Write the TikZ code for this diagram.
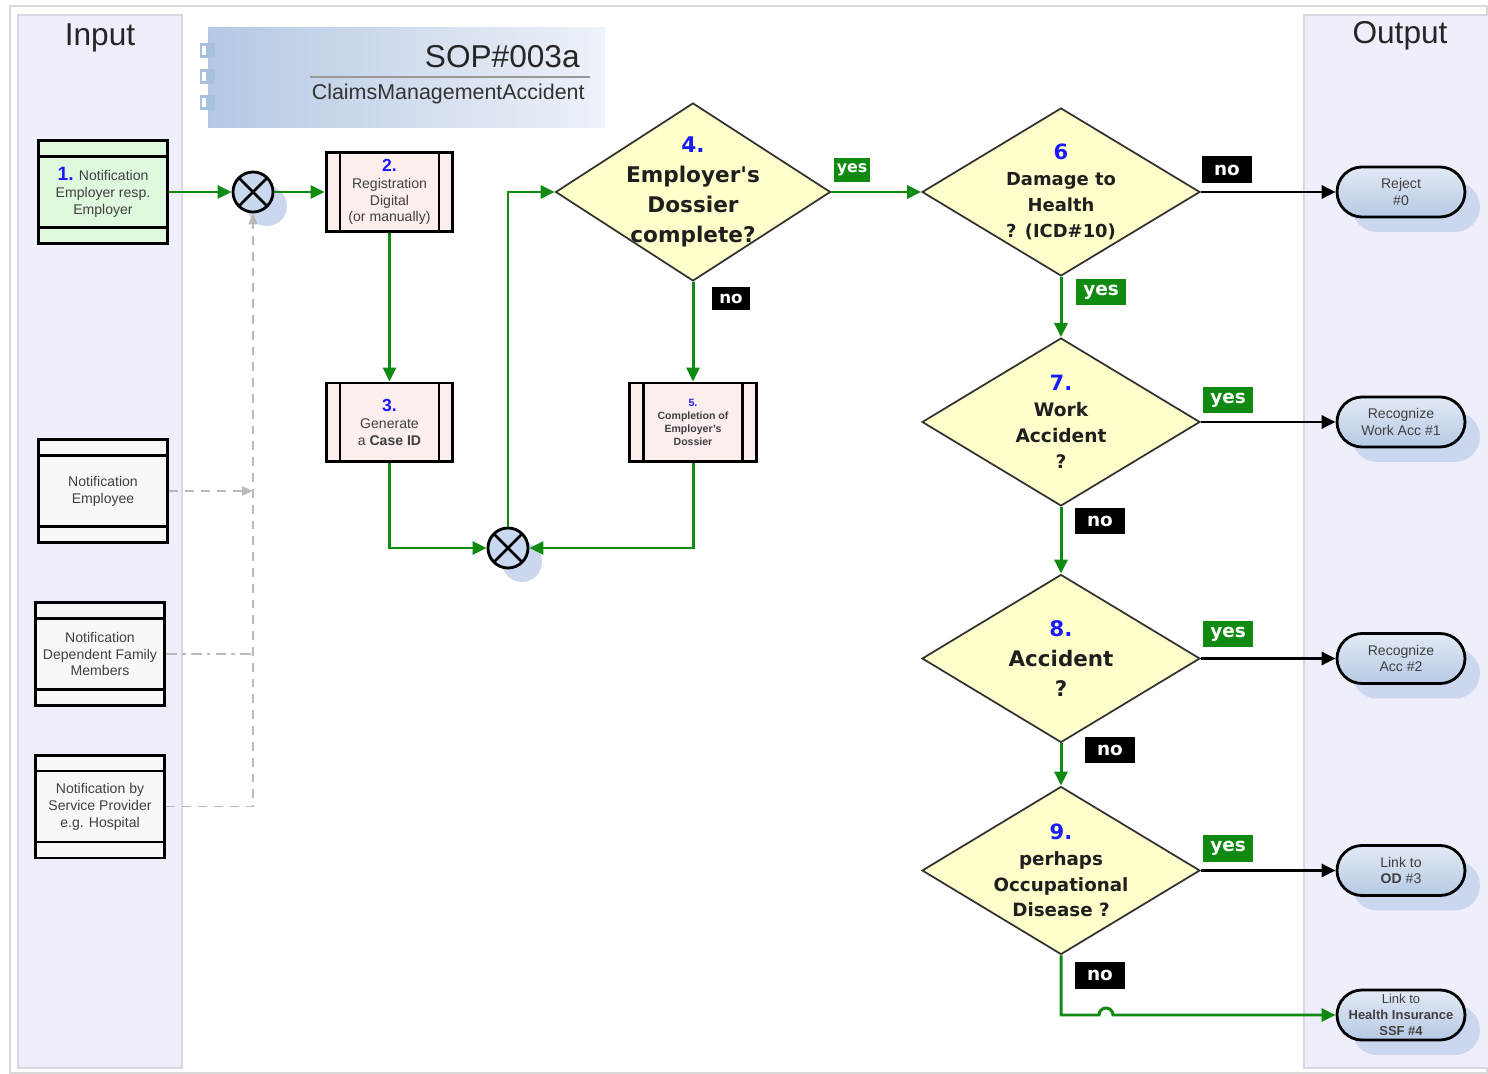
\documentclass[tikz,border=0pt]{standalone}
\usepackage{fontspec}
\setmainfont{Liberation Sans}
\newfontfamily\djv{DejaVu Sans}
\usetikzlibrary{shapes.geometric,shapes.misc,arrows.meta,shadows}
\definecolor{lanefill}{HTML}{EFEFFB}
\definecolor{laneline}{HTML}{D8D8E4}
\definecolor{greenbox}{HTML}{DFF9DF}
\definecolor{pinkbox}{HTML}{FDEEEE}
\definecolor{greybox}{HTML}{F8F8F8}
\definecolor{dyellow}{HTML}{FFFFCC}
\definecolor{lgreen}{HTML}{118A11}
\definecolor{numblue}{HTML}{1A1AFF}
\definecolor{txtgray}{HTML}{404040}
\definecolor{shblue}{HTML}{CBD7EE}
\definecolor{gwblue}{HTML}{C8D8EE}
\definecolor{termtop}{HTML}{E2EAF5}
\definecolor{termbot}{HTML}{B6C9E4}
\definecolor{bannerL}{HTML}{B5C8E3}
\definecolor{bannerR}{HTML}{EEF2F9}
\definecolor{sqblue}{HTML}{A9C0E0}
\newcommand{\numf}{\color{numblue}\bfseries}
\begin{document}
\begin{tikzpicture}[x=0.02cm,y=-0.02cm,
  lanebox/.style={draw=laneline,fill=lanefill,line width=0.8pt},
  inbox/.style={rectangle,draw=black,line width=1.7pt,fill=greybox,
    minimum width=2.6cm,minimum height=2.06cm,inner sep=1pt,align=center,
    text=txtgray,font=\fontsize{8}{9.6}\selectfont,
    path picture={\draw[line width=1.6pt]
      ([yshift=-0.32cm]path picture bounding box.north west) -- ([yshift=-0.32cm]path picture bounding box.north east)
      ([yshift=0.32cm]path picture bounding box.south west) -- ([yshift=0.32cm]path picture bounding box.south east);}},
  procbox/.style={rectangle,draw=black,line width=1.7pt,fill=pinkbox,
    minimum width=2.54cm,minimum height=1.58cm,inner sep=1pt,align=center,
    text=txtgray,font=\fontsize{8}{9.6}\selectfont,
    path picture={\draw[line width=1.6pt]
      ([xshift=0.28cm]path picture bounding box.north west) -- ([xshift=0.28cm]path picture bounding box.south west)
      ([xshift=-0.28cm]path picture bounding box.north east) -- ([xshift=-0.28cm]path picture bounding box.south east);}},
  decision/.style={diamond,draw=black!80,line width=1pt,fill=dyellow,
    minimum width=5.56cm,minimum height=3.36cm,inner sep=0pt},
  dtext/.style={align=center,text=black!88,inner sep=0pt},
  gw/.style={circle,draw=black,line width=1.6pt,fill=gwblue,minimum size=0.8cm,inner sep=0pt,
    drop shadow={shadow xshift=0.28cm,shadow yshift=-0.28cm,fill=shblue,opacity=1},
    path picture={\draw[line width=1.6pt]
      (path picture bounding box.north west) -- (path picture bounding box.south east)
      (path picture bounding box.north east) -- (path picture bounding box.south west);}},
  term/.style={rounded rectangle,draw=black,line width=1.6pt,top color=termtop,bottom color=termbot,
    minimum width=2.56cm,minimum height=1cm,inner sep=0pt,align=center,
    text=txtgray,font=\fontsize{8}{9.6}\selectfont,
    drop shadow={shadow xshift=0.3cm,shadow yshift=-0.3cm,fill=shblue,opacity=1}},
  yeslab/.style={fill=lgreen,text=white,font=\djv\bfseries\fontsize{10.5}{12}\selectfont,
    minimum width=1cm,minimum height=0.54cm,inner sep=0pt},
  nolab/.style={fill=black,text=white,font=\djv\bfseries\fontsize{10.5}{12}\selectfont,
    minimum width=1cm,minimum height=0.54cm,inner sep=0pt},
  gl/.style={draw=lgreen,line width=1.7pt,-{Triangle[length=0.28cm,width=0.26cm]}},
  bl/.style={draw=black,line width=1.7pt,-{Triangle[length=0.28cm,width=0.26cm]}},
  dl/.style={draw=gray!55,line width=1pt,dash pattern=on 5pt off 4pt},
  ghead/.style={-{Triangle[length=0.22cm,width=0.18cm]}}
]
\useasboundingbox (0,0) rectangle (1488,1074);
% frame
\draw[gray!30,line width=0.8pt] (10,6) rectangle (1487,1073);
% lanes
\draw[lanebox] (18,15) rectangle (182,1068);
\draw[lanebox] (1304,15) rectangle (1492,1068);
\node[font=\fontsize{18}{20}\selectfont,text=black!85] (inlbl) at (100,38) {Input};
\node[font=\fontsize{18}{20}\selectfont,text=black!85] (outlbl) at (1400,36) {Output};
% banner
\shade[left color=bannerL,right color=bannerR] (208,28) rectangle (605,128);
\foreach \yy in {43,69,95}{
  \fill[sqblue] (200,\yy) rectangle (215,\yy+15);
  \fill[white] (202,\yy+3) rectangle (206,\yy+12);
}
\node[anchor=east,font=\fontsize{18}{20}\selectfont,text=black!85,inner sep=0pt] (sop) at (580,57) {SOP\#003a};
\draw[gray!80,line width=1pt] (310,77) -- (590,77);
\node[anchor=east,font=\fontsize{12.2}{14}\selectfont,text=black!80,inner sep=0pt] (sopsub) at (585,94) {ClaimsManagementAccident};
% input boxes
\node[inbox,fill=greenbox] (b1) at (103,192) {{\numf\fontsize{11}{11}\selectfont 1.} Notification\\Employer resp.\\Employer};
\node[inbox] (emp) at (103,491) {Notification\\Employee};
\node[inbox] (fam) at (100,654) {Notification\\Dependent Family\\Members};
\node[inbox] (sp) at (100,806.5) {Notification by\\Service Provider\\e.g. Hospital};
% process boxes
\node[procbox] (b2) at (389.5,192) {{\numf\fontsize{10}{10}\selectfont 2.}\\Registration\\Digital\\(or manually)};
\node[procbox] (b3) at (389.5,422.5) {{\numf\fontsize{10}{10}\selectfont 3.}\\Generate\\a \textbf{Case ID}};
\node[procbox,font=\bfseries\fontsize{6}{7.4}\selectfont] (b5) at (693,422.5) {{\numf\fontsize{6}{6}\selectfont 5.}\\Completion of\\Employer's\\Dossier};
% gateways
\node[gw] (g1) at (253,192) {};
\node[gw] (g2) at (508,548) {};
% decisions
\node[decision,minimum width=5.5cm,minimum height=3.56cm] (d4) at (693,192) {};
\node[dtext,font=\djv\bfseries\fontsize{12.3}{17}\selectfont] (t4) at (d4.center) {{\color{numblue}4.}\\Employer's\\Dossier\\complete?};
\node[decision] (d6) at (1061,192) {};
\node[dtext,font=\djv\bfseries\fontsize{10.2}{14.7}\selectfont] (t6) at (d6.center) {{\color{numblue}\fontsize{12}{14.7}\selectfont 6}\\Damage to\\Health\\? (ICD\#10)};
\node[decision] (d7) at (1061,422) {};
\node[dtext,font=\djv\bfseries\fontsize{10.6}{14.7}\selectfont] (t7) at (d7.center) {{\color{numblue}\fontsize{12}{14.7}\selectfont 7.}\\Work\\Accident\\?};
\node[decision] (d8) at (1061,658.5) {};
\node[dtext,font=\djv\bfseries\fontsize{12.2}{17}\selectfont] (t8) at (d8.center) {{\color{numblue}8.}\\Accident\\?};
\node[decision] (d9) at (1061,870.5) {};
\node[dtext,font=\djv\bfseries\fontsize{10.4}{14.7}\selectfont] (t9) at (d9.center) {{\color{numblue}\fontsize{12}{14.7}\selectfont 9.}\\perhaps\\Occupational\\Disease ?};
% outputs
\node[term] (o0) at (1401,192) {Reject\\\#0};
\node[term] (o1) at (1401,422) {Recognize\\Work Acc \#1};
\node[term] (o2) at (1401,658.5) {Recognize\\Acc \#2};
\node[term] (o3) at (1401,870.5) {Link to\\\textbf{OD} \#3};
\node[term,font=\fontsize{7.4}{9}\selectfont] (o4) at (1401,1015) {Link to\\\textbf{Health Insurance}\\\textbf{SSF \#4}};
% dashed connectors
\coordinate (vemp) at (253,491);
\coordinate (vfam) at (253,654);
\draw[dl,ghead,gray!55] (emp.east) -- (vemp);
\draw[dl,dash pattern=on 6pt off 3pt on 2pt off 3pt] (fam.east) -- (vfam);
\draw[dl,ghead,gray!55] (sp.east) -| (g1.south);
% green flow
\draw[gl] (b1.east) -- (g1.west);
\draw[gl] (g1.east) -- (b2.west);
\draw[gl] (b2.south) -- (b3.north);
\draw[gl] (b3.south) |- (g2.west);
\draw[gl] (b5.south) |- (g2.east);
\draw[gl] (g2.north) |- (d4.west);
\draw[gl] (d4.south) -- (b5.north);
\draw[gl] (d4.east) -- (d6.west);
\draw[gl] (d6.south) -- (d7.north);
\draw[gl] (d7.south) -- (d8.north);
\draw[gl] (d8.south) -- (d9.north);
\coordinate (j1) at (1099,1015);
\draw[gl] (d9.south) |- (j1) arc[start angle=180,end angle=0,radius=0.14cm] -- (o4.west);
% black flow
\draw[bl] (d6.east) -- (o0.west);
\draw[bl] (d7.east) -- (o1.west);
\draw[bl] (d8.east) -- (o2.west);
\draw[bl] (d9.east) -- (o3.west);
% labels
\node[yeslab,minimum width=0.72cm,minimum height=0.48cm,font=\djv\bfseries\fontsize{9}{10}\selectfont] (y4) at (852,170) {yes};
\node[nolab,minimum width=0.76cm,minimum height=0.46cm,font=\djv\bfseries\fontsize{9.5}{10}\selectfont] (n4) at (731,299) {no};
\node[nolab] (n6) at (1227,170) {no};
\node[yeslab] (y6) at (1101,292) {yes};
\node[yeslab] (y7) at (1228,400) {yes};
\node[nolab] (n7) at (1100,521) {no};
\node[yeslab] (y8) at (1228,634) {yes};
\node[nolab] (n8) at (1110,750) {no};
\node[yeslab] (y9) at (1228,848) {yes};
\node[nolab] (n9) at (1100,975) {no};
\end{tikzpicture}
\end{document}
